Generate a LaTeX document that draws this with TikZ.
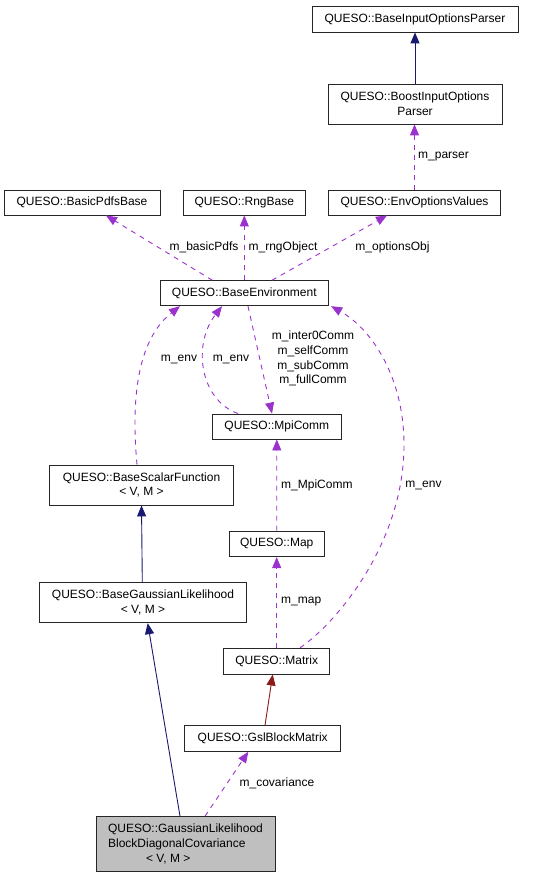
\documentclass[tikz,border=0pt]{standalone}
\usepackage{fontspec}
\setmainfont{Liberation Sans}
\usetikzlibrary{arrows.meta}
\definecolor{purp}{HTML}{9A32CD}
\definecolor{navy}{HTML}{191970}
\definecolor{dred}{HTML}{8B1A1A}
\definecolor{nodegray}{HTML}{BFBFBF}
\begin{document}
\begin{tikzpicture}[x=1pt,y=-1pt,
  cls/.style={draw=black!85,line width=0.9pt,inner sep=0pt,align=center,font=\fontsize{12}{14.7}\selectfont},
  inh/.style={draw=navy,line width=0.9pt,-{Triangle[length=11pt,width=9pt]}},
  inhr/.style={draw=dred,line width=0.9pt,-{Triangle[length=11pt,width=9pt]}},
  use/.style={draw=purp,line width=0.9pt,dash pattern=on 5pt off 5pt,-{Triangle[length=11pt,width=9pt,fill=purp]}},
  lbl/.style={inner sep=0pt,font=\fontsize{12}{14.7}\selectfont,align=center}]
\useasboundingbox (0,0) rectangle (541,877);
% nodes
\node[cls,minimum width=206pt,minimum height=26pt] (bip) at (415,19) {QUESO::BaseInputOptionsParser};
\node[cls,minimum width=174pt,minimum height=40pt] (boost) at (415,104) {QUESO::BoostInputOptions\\Parser};
\node[cls,minimum width=156pt,minimum height=25pt] (bpdf) at (82,202.5) {QUESO::BasicPdfsBase};
\node[cls,minimum width=122.7pt,minimum height=25pt] (rng) at (244.3,202.5) {QUESO::RngBase};
\node[cls,minimum width=171.6pt,minimum height=25pt] (envo) at (414.5,202.5) {QUESO::EnvOptionsValues};
\node[cls,minimum width=168.7pt,minimum height=25pt] (benv) at (244.3,293.2) {QUESO::BaseEnvironment};
\node[cls,minimum width=129pt,minimum height=25pt] (mpi) at (276.8,426.5) {QUESO::MpiComm};
\node[cls,minimum width=184.4pt,minimum height=40pt] (bsf) at (141.5,485) {QUESO::BaseScalarFunction\\< V, M >};
\node[cls,minimum width=95.3pt,minimum height=25.7pt] (map) at (276.7,543.8) {QUESO::Map};
\node[cls,minimum width=207.4pt,minimum height=40pt] (bgl) at (143,602.7) {QUESO::BaseGaussianLikelihood\\< V, M >};
\node[cls,minimum width=106pt,minimum height=25.7pt] (matrix) at (276.7,661.2) {QUESO::Matrix};
\node[cls,minimum width=156pt,minimum height=25.6pt] (gsl) at (262.7,738.5) {QUESO::GslBlockMatrix};
\node[cls,fill=nodegray,minimum width=179pt,minimum height=54.3pt,align=left] (gl) at (185.5,843.8)
  {QUESO::GaussianLikelihood\\BlockDiagonalCovariance\\\hspace*{38pt}< V, M >};
% edges
\draw[inh] (boost.north) -- (bip.south);
\draw[use] (envo.north) -- (envo.north |- boost.south);
\draw[use] ([xshift=-32pt]benv.north) -- ([xshift=24pt]bpdf.south);
\draw[use] (benv.north) -- (rng.south);
\draw[use] ([xshift=27.7pt]benv.north) -- ([xshift=-27.5pt]envo.south);
\draw[use] ([xshift=-4.5pt]bsf.north) .. controls (131,400) and (137,340) .. ([xshift=-64.3pt]benv.south);
\draw[use] ([xshift=-38.8pt]mpi.north) .. controls (200,400) and (192,345) .. ([xshift=-22.3pt]benv.south);
\draw[use] ([xshift=3.7pt]benv.south) -- ([xshift=-4.8pt]mpi.north);
\draw[use] (map.north) -- (mpi.south);
\draw[use] ([xshift=23.3pt]matrix.north) .. controls (340,620) and (404,540) .. (404,445)
  .. controls (404,375) and (370,328) .. ([xshift=2pt]benv.south east);
\draw[use] (matrix.north) -- (map.south);
\draw[inh] ([xshift=-0.7pt]bgl.north) -- (bsf.south);
\draw[inhr] ([xshift=2.3pt]gsl.north) -- ([xshift=-4pt]matrix.south);
\draw[inh] ([xshift=-5.5pt]gl.north) -- ([xshift=4.7pt]bgl.south);
\draw[use] ([xshift=19.5pt]gl.north) -- ([xshift=-14.4pt]gsl.south);
% labels
\node[lbl,anchor=west] (l1) at (418,157) {m\_parser};
\node[lbl] (l2) at (204,247) {m\_basicPdfs};
\node[lbl] (l3) at (283,247) {m\_rngObject};
\node[lbl] (l4) at (392.5,247) {m\_optionsObj};
\node[lbl] (l5) at (179,359) {m\_env};
\node[lbl] (l6) at (231,359) {m\_env};
\node[lbl] (l7) at (313,358.7) {m\_inter0Comm\\m\_selfComm\\m\_subComm\\m\_fullComm};
\node[lbl,anchor=west] (l8) at (281,485) {m\_MpiComm};
\node[lbl] (l9) at (423.5,485) {m\_env};
\node[lbl,anchor=west] (l10) at (281,602) {m\_map};
\node[lbl] (l11) at (277,783) {m\_covariance};
\end{tikzpicture}
\end{document}
